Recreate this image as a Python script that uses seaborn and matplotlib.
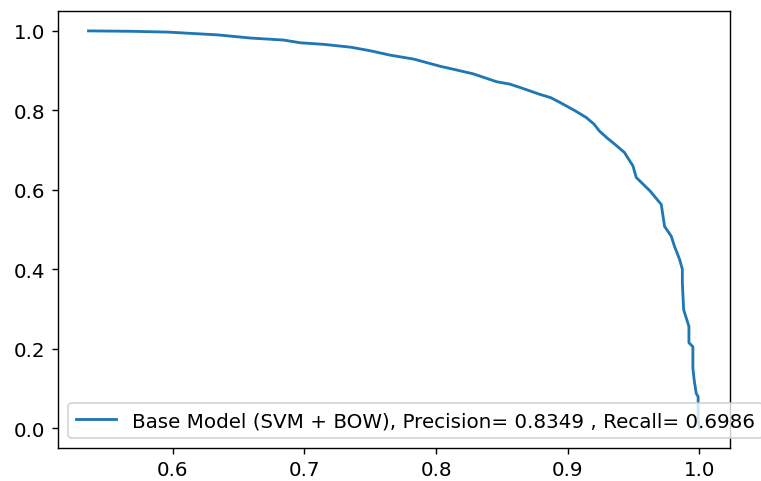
import matplotlib
matplotlib.use("Agg")
import matplotlib.pyplot as plt
import seaborn as sns
import pandas as pd

# precision / recall points
precision = [0.536, 0.568, 0.596, 0.634, 0.659, 0.684, 0.697, 0.715, 0.735, 0.750,
             0.765, 0.783, 0.803, 0.815, 0.828, 0.846, 0.856, 0.866, 0.879, 0.887,
             0.894, 0.905, 0.914, 0.920, 0.924, 0.930, 0.9356, 0.943, 0.9495, 0.952,
             0.9625, 0.971, 0.9735, 0.9786, 0.981, 0.985, 0.987, 0.987, 0.988, 0.992,
             0.992, 0.995, 0.995, 0.996, 0.9975, 0.999, 0.999, 1.0]
recall = [1.0, 0.999, 0.997, 0.990, 0.982, 0.977, 0.970, 0.966, 0.959, 0.950,
          0.939, 0.929, 0.911, 0.902, 0.892, 0.872, 0.866, 0.855, 0.840, 0.832,
          0.820, 0.800, 0.782, 0.765, 0.748, 0.730, 0.715, 0.694, 0.660, 0.631,
          0.597, 0.563, 0.508, 0.483, 0.458, 0.424, 0.400, 0.366, 0.298, 0.256,
          0.215, 0.205, 0.151, 0.121, 0.088, 0.079, 0.020, 0.0]
label = "Base Model (SVM + BOW), Precision= 0.8349 , Recall= 0.6986"

df = pd.DataFrame({"precision": precision, "recall": recall})

plt.rcParams["font.size"] = 11.3

fig = plt.figure(figsize=(6, 3.8), dpi=761 / 6)
ax = fig.add_axes([58 / 761, 1 - 449 / 482, (730 - 58) / 761, (449 - 12) / 482])
sns.lineplot(data=df, x="precision", y="recall", sort=False, estimator=None,
             label=label, ax=ax, linewidth=1.6)
ax.set_xlabel("")
ax.set_ylabel("")
ax.set_xticks([0.6, 0.7, 0.8, 0.9, 1.0])
ax.set_yticks([0.0, 0.2, 0.4, 0.6, 0.8, 1.0])
ax.legend(loc="lower left")
fig.savefig("out.png", dpi=761 / 6)
